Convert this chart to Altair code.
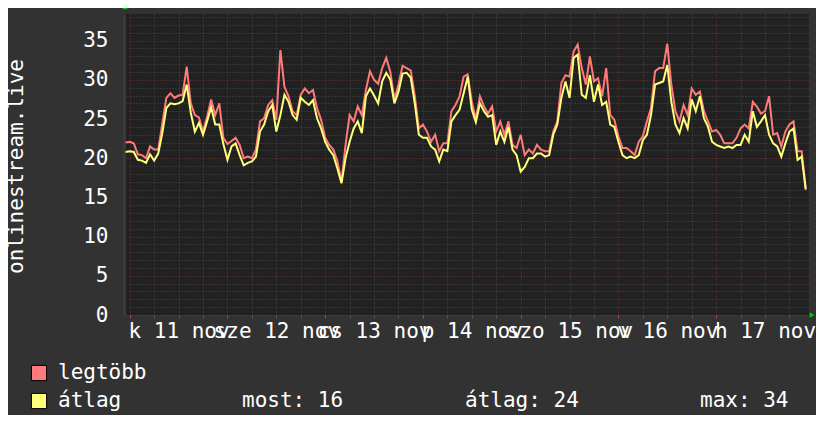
import altair as alt
import pandas as pd

# hours relative to 11 nov 00:00, one sample per hour
hours = list(range(-1, 167))

legtobb = [
    22.0, 22.1, 21.9, 20.5, 20.4, 20.0, 21.5, 21.1, 21.1, 24.4,
    27.7, 28.3, 27.7, 28.0, 28.1, 31.7, 27.0, 25.5, 25.2, 23.4,
    25.3, 27.5, 25.5, 27.0, 22.6, 21.8, 22.2, 22.6, 21.7, 20.0,
    20.2, 20.0, 21.1, 24.7, 25.1, 26.8, 27.4, 24.9, 33.8, 29.1,
    27.9, 26.0, 25.5, 28.1, 28.9, 28.3, 28.7, 26.4, 24.9, 22.6,
    21.7, 21.1, 19.6, 17.0, 21.7, 25.5, 24.7, 26.6, 25.5, 28.7,
    31.1, 30.0, 29.5, 31.5, 32.8, 31.0, 27.5, 29.4, 31.8, 31.5,
    31.2, 28.0, 23.8, 24.3, 23.4, 22.1, 23.0, 20.9, 21.9, 21.9,
    26.0, 26.8, 27.9, 30.4, 30.7, 27.2, 25.0, 27.9, 26.6, 25.7,
    26.6, 23.4, 24.7, 23.0, 24.7, 21.7, 21.3, 23.0, 20.4, 21.1,
    20.6, 21.7, 21.1, 20.9, 20.9, 23.4, 24.7, 29.6, 30.6, 30.4,
    33.6, 34.5, 31.5, 29.4, 33.0, 29.8, 30.2, 27.9, 31.5, 25.5,
    24.9, 22.8, 21.3, 21.3, 20.9, 20.4, 22.1, 22.8, 24.7, 26.4,
    31.1, 31.5, 31.5, 34.6, 29.4, 26.0, 24.7, 26.8, 25.5, 28.9,
    28.1, 28.5, 26.0, 24.7, 23.4, 23.6, 23.0, 21.9, 21.9, 21.9,
    22.6, 23.8, 24.3, 23.8, 27.2, 26.6, 25.7, 26.0, 27.9, 23.0,
    23.2, 21.5, 23.4, 24.3, 24.7, 20.9, 20.9, 16.2,
]

atlag = [
    20.8, 20.9, 20.8, 19.8, 19.7, 19.4, 20.5, 19.7, 20.6, 23.2,
    26.4, 27.0, 26.9, 27.0, 27.3, 29.4, 25.8, 23.4, 24.5, 23.0,
    24.7, 26.5, 24.3, 24.3, 21.8, 19.8, 21.5, 21.9, 20.4, 19.1,
    19.4, 19.6, 20.2, 23.4, 24.3, 26.0, 26.8, 23.4, 25.5, 28.1,
    27.2, 25.5, 24.9, 27.7, 27.2, 26.8, 27.4, 25.1, 23.8, 22.1,
    21.1, 20.4, 18.7, 16.8, 20.0, 22.1, 23.8, 24.7, 23.2, 27.9,
    28.9, 28.0, 27.0, 29.8, 30.9, 30.0, 27.0, 28.5, 30.8, 30.9,
    30.3, 27.0, 23.0, 22.6, 22.6, 21.5, 21.1, 19.6, 21.1, 20.9,
    24.7, 25.5, 26.2, 28.3, 30.4, 26.2, 24.6, 27.0, 26.0, 25.3,
    25.5, 21.7, 23.4, 22.1, 24.0, 21.1, 20.4, 18.3, 18.9, 20.0,
    20.0, 20.6, 20.6, 20.2, 20.4, 23.0, 24.3, 27.7, 29.8, 27.7,
    32.8, 33.2, 28.1, 27.7, 30.6, 27.2, 29.4, 26.8, 27.2, 24.3,
    24.0, 22.1, 20.4, 20.0, 20.2, 20.0, 20.4, 22.3, 23.0, 25.5,
    29.4, 29.6, 29.8, 31.9, 27.2, 24.3, 23.2, 25.1, 23.8, 27.5,
    26.0, 27.9, 25.1, 24.0, 22.1, 21.7, 21.5, 21.3, 21.5, 21.3,
    21.7, 21.7, 23.0, 22.1, 26.0, 24.0, 24.7, 25.5, 23.0, 21.9,
    21.5, 20.2, 21.9, 23.4, 23.8, 19.8, 20.2, 16.0,
]

day_labels = ["k 11 nov", "sze 12 nov", "cs 13 nov", "p 14 nov",
              "szo 15 nov", "v 16 nov", "h 17 nov"]
series_names = ["legtöbb", "átlag"]
series_colors = ["#ff7a7a", "#ffff7a"]
y_title = "onlinestream.live"
stats_labels = ["most", "átlag", "max"]
stats_values = [16, 24, 34]

df_max = pd.DataFrame({"h": hours, "v": legtobb})
df_avg = pd.DataFrame({"h": hours, "v": atlag})

FONT = "DejaVu Sans Mono"
xdom = [-1.4, 166.8]
ydom = [0, 38.4]

x_vals = list(range(0, 163, 6))
y_vals = list(range(0, 39))
label_arr = "[" + ",".join("'" + t + "'" for t in day_labels) + "]"


def make_x_axis():
    return alt.Axis(
        values=x_vals,
        title=None,
        grid=True,
        gridColor={"condition": {"test": "datum.value % 24 === 0", "value": "#6e3434"}, "value": "#4a4a4a"},
        gridDash=[1, 2],
        gridWidth=1,
        domain=False,
        ticks=True,
        tickColor={"condition": {"test": "datum.value % 24 === 0", "value": "#b04a4a"}, "value": "#555555"},
        tickSize=3,
        labelExpr="(datum.value - 12) % 24 === 0 ? " + label_arr + "[floor(datum.value / 24)] : ''",
        labelOverlap=False,
        labelFlush=False,
        labelBound=False,
        labelFont=FONT,
        labelFontSize=21,
        labelColor="#ffffff",
        labelPadding=2,
    )


def make_y_axis():
    return alt.Axis(
        values=y_vals,
        title=y_title,
        titleFont=FONT,
        titleFontSize=21,
        titleFontWeight="normal",
        titleColor="#ffffff",
        titleAngle=270,
        titleAlign="center",
        titleBaseline="middle",
        titleX=-108,
        titleY=152,
        grid=True,
        gridColor={"condition": {"test": "datum.value % 5 === 0", "value": "#6e3434"}, "value": "#4a4a4a"},
        gridDash=[1, 2],
        gridWidth=1,
        domain=True,
        domainColor="#3a3a3a",
        domainWidth=3,
        ticks=False,
        labelExpr="datum.value % 5 === 0 ? datum.label : ''",
        labelOverlap=False,
        labelFont=FONT,
        labelFontSize=21,
        labelColor="#ffffff",
        labelPadding=16,
    )


def series_line(data, color):
    return alt.Chart(data).mark_line(strokeWidth=2, clip=True, color=color).encode(
        x=alt.X("h:Q", scale=alt.Scale(domain=xdom, nice=False, zero=False), axis=make_x_axis()),
        y=alt.Y("v:Q", scale=alt.Scale(domain=ydom, nice=False), axis=make_y_axis()),
    )


red_line = series_line(df_max, series_colors[0])
yel_line = series_line(df_avg, series_colors[1])


def one(text):
    return pd.DataFrame({"t": [text]})


arrow_up = alt.Chart(one("")).mark_point(
    shape="triangle-up", filled=True, color="#00cc00", size=30, opacity=1
).encode(x=alt.value(1), y=alt.value(-7))
arrow_right = alt.Chart(one("")).mark_point(
    shape="triangle-right", filled=True, color="#00cc00", size=30, opacity=1
).encode(x=alt.value(688), y=alt.value(301))


def legend_text(text, x, y):
    return alt.Chart(one(text)).mark_text(
        font=FONT, fontSize=21, color="#ffffff", align="left", baseline="middle"
    ).encode(x=alt.value(x), y=alt.value(y), text="t:N")


def legend_box(color, y):
    return alt.Chart(one("")).mark_point(
        shape="square", filled=True, color=color, stroke="#000000", strokeWidth=1,
        size=230, opacity=1
    ).encode(x=alt.value(-85), y=alt.value(y))


legend_layers = [
    legend_box(series_colors[0], 359),
    legend_box(series_colors[1], 387),
    legend_text(series_names[0], -66, 359),
    legend_text(series_names[1], -66, 387),
    legend_text(f"{stats_labels[0]}: {stats_values[0]}", 118, 387),
    legend_text(f"{stats_labels[1]}: {stats_values[1]}", 341, 387),
    legend_text(f"{stats_labels[2]}: {stats_values[2]}", 576, 387),
]

chart = alt.layer(
    red_line, yel_line, arrow_up, arrow_right, *legend_layers
).properties(
    width=685, height=301,
    padding={"left": 116, "top": 6, "right": 7, "bottom": 100},
    autosize=alt.AutoSizeParams(type="none"),
    background="#323232",
).configure_view(
    fill="#212121", stroke=None
)

chart.save("out.html", embed_options={"renderer": "svg", "actions": False})
